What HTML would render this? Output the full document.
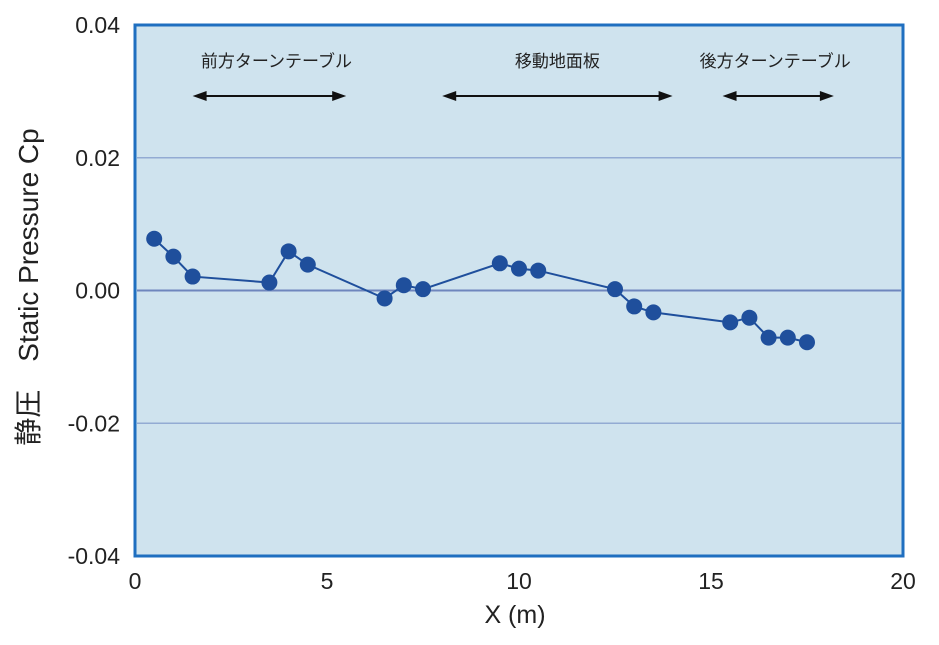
<!DOCTYPE html>
<html><head><meta charset="utf-8"><style>
html,body{margin:0;padding:0;background:#fff;}
svg{display:block;font-family:"Liberation Sans","Noto Sans CJK JP",sans-serif;}
</style></head><body>
<svg id="chart" width="939" height="645" viewBox="0 0 939 645">
<rect x="135" y="25" width="768" height="531" fill="#cfe3ee" stroke="#1f6fc0" stroke-width="3"/>
<g id="grid"></g>
<g id="annotations"></g>
<g id="series"></g>
<g id="ticks"></g>
<text x="515" y="623" font-size="25" text-anchor="middle" fill="#222">X (m)</text>
<text transform="translate(38,287) rotate(-90)" font-size="28" text-anchor="middle" fill="#222">静圧　Static Pressure Cp</text>
</svg>
<script>
const xs = [0.5,1.0,1.5,3.5,4.0,4.5,6.5,7.0,7.5,9.5,10.0,10.5,12.5,13.0,13.5,15.5,16.0,16.5,17.0,17.5];
const cp = [0.0078,0.0051,0.0021,0.0012,0.0059,0.0039,-0.0012,0.0008,0.0002,0.0041,0.0033,0.0030,0.0002,-0.0024,-0.0033,-0.0048,-0.0041,-0.0071,-0.0071,-0.0078];
const xTicks = [0,5,10,15,20];
const xTickLabels = ["0","5","10","15","20"];
const yTicks = [0.04,0.02,0,-0.02,-0.04];
const yTickLabels = ["0.04","0.02","0.00","-0.02","-0.04"];
const spanLabels = ["前方ターンテーブル","移動地面板","後方ターンテーブル"];
const spanStart = [1.5,8.0,15.3];
const spanEnd = [5.5,14.0,18.2];

const NS="http://www.w3.org/2000/svg";
const X0=135,X1=903,Y0=556,Y1=25;
const sx=v=>X0+(v-0)/(20-0)*(X1-X0);
const sy=v=>Y0-(v-(-0.04))/(0.08)*(Y0-Y1);
function mk(tag,attrs,parent){const e=document.createElementNS(NS,tag);for(const k in attrs)e.setAttribute(k,attrs[k]);document.getElementById(parent).appendChild(e);return e;}

yTicks.forEach((v,i)=>{
  if(v!==0.04&&v!==-0.04){
    const l=mk('line',{x1:X0+2,x2:X1-2,y1:sy(v),y2:sy(v),stroke:v===0?'#6f86bd':'#93abd3','stroke-width':v===0?2:1.5},'grid');
    
    
  }
  const t=mk('text',{x:120,y:sy(v)+8,'font-size':23,'text-anchor':'end',fill:'#222'},'ticks');
  t.textContent=yTickLabels[i];
  
  
});
xTicks.forEach((v,i)=>{
  const t=mk('text',{x:sx(v),y:589,'font-size':23,'text-anchor':'middle',fill:'#222'},'ticks');
  t.textContent=xTickLabels[i];
  
  
});
spanLabels.forEach((s,i)=>{
  const a=sx(spanStart[i]),b=sx(spanEnd[i]),y=96;
  const t=mk('text',{x:(a+b)/2+(i===0?7:(i===2?-3:0)),y:67,'font-size':17,'text-anchor':'middle',fill:'#222'},'annotations');
  t.textContent=s;
  
  
  const l=mk('line',{x1:a+10,x2:b-10,y1:y,y2:y,stroke:'#111','stroke-width':2},'annotations');
  
  
  const p1=mk('polygon',{points:`${a},${y} ${a+14},${y-5} ${a+14},${y+5}`,fill:'#111'},'annotations');
  
  
  const p2=mk('polygon',{points:`${b},${y} ${b-14},${y-5} ${b-14},${y+5}`,fill:'#111'},'annotations');
  
  
});
const pl=mk('polyline',{points:xs.map((x,i)=>sx(x)+','+sy(cp[i])).join(' '),fill:'none',stroke:'#1f4f9c','stroke-width':2},'series');


xs.forEach((x,i)=>{
  const c=mk('circle',{cx:sx(x),cy:sy(cp[i]),r:8,fill:'#1f4f9c'},'series');
  
  
});
</script>
</body></html>
